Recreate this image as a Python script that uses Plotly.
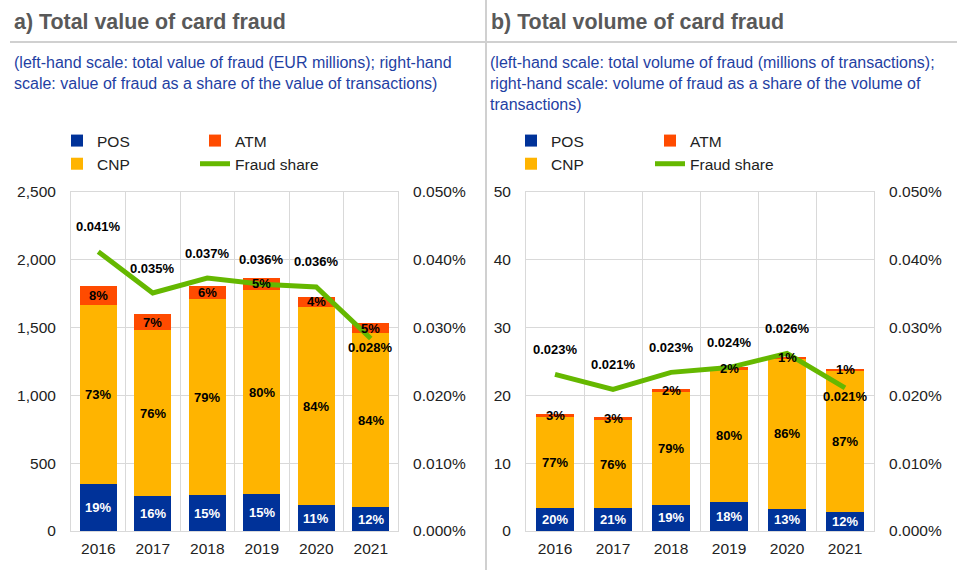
import plotly.graph_objects as go

years = ["2016", "2017", "2018", "2019", "2020", "2021"]

# Panel a: value of card fraud (EUR millions)
pos_a = [347, 258, 265, 273, 189, 177]
cnp_a = [1320, 1224, 1444, 1504, 1463, 1283]
atm_a = [140, 118, 98, 91, 74, 72]
share_a = [0.0412, 0.0351, 0.0373, 0.0364, 0.0360, 0.0284]
pos_a_lbl = ["19%", "16%", "15%", "15%", "11%", "12%"]
cnp_a_lbl = ["73%", "76%", "79%", "80%", "84%", "84%"]
atm_a_lbl = ["8%", "7%", "6%", "5%", "4%", "5%"]
share_a_lbl = ["0.041%", "0.035%", "0.037%", "0.036%", "0.036%", "0.028%"]

# Panel b: volume of card fraud (millions of transactions)
pos_b = [3.4, 3.45, 3.9, 4.3, 3.3, 2.8]
cnp_b = [13.35, 12.85, 16.6, 19.5, 22.1, 20.85]
atm_b = [0.5, 0.5, 0.4, 0.45, 0.3, 0.25]
share_b = [0.0231, 0.0209, 0.0234, 0.0241, 0.0262, 0.0211]
pos_b_lbl = ["20%", "21%", "19%", "18%", "13%", "12%"]
cnp_b_lbl = ["77%", "76%", "79%", "80%", "86%", "87%"]
atm_b_lbl = ["3%", "3%", "2%", "2%", "1%", "1%"]
share_b_lbl = ["0.023%", "0.021%", "0.023%", "0.024%", "0.026%", "0.021%"]

left_ticks_a = [0, 500, 1000, 1500, 2000, 2500]
left_ticks_b = [0, 10, 20, 30, 40, 50]
right_ticks = [0, 0.01, 0.02, 0.03, 0.04, 0.05]

C_POS = "#003299"
C_CNP = "#FFB400"
C_ATM = "#FF4B00"
C_LINE = "#65B800"
GRID = "#d9d9d9"
FONT = "Liberation Sans, Arial, sans-serif"
TXT = "#222222"

W, H = 957, 578


def px_x(p):
    return p / W


def px_y(p):
    return 1 - p / H


Y0, Y1 = px_y(531), px_y(192)

fig = go.Figure()

panels = [
    dict(x="x", y="y", y2="y2", pos=pos_a, cnp=cnp_a, atm=atm_a, share=share_a,
         lp="legend", lp2="legend2",
         pl=pos_a_lbl, cl=cnp_a_lbl, al=atm_a_lbl, sl=share_a_lbl),
    dict(x="x2", y="y3", y2="y4", pos=pos_b, cnp=cnp_b, atm=atm_b, share=share_b,
         lp="legend3", lp2="legend4",
         pl=pos_b_lbl, cl=cnp_b_lbl, al=atm_b_lbl, sl=share_b_lbl),
]

annotations = []
for i, p in enumerate(panels):
    fig.add_trace(go.Bar(x=years, y=p["pos"], name="POS", marker=dict(color=C_POS, line=dict(width=0)),
                         xaxis=p["x"], yaxis=p["y"], legend=p["lp"], legendrank=1, hoverinfo="skip"))
    fig.add_trace(go.Bar(x=years, y=p["cnp"], name="CNP", marker=dict(color=C_CNP, line=dict(width=0)),
                         xaxis=p["x"], yaxis=p["y"], legend=p["lp"], legendrank=2, hoverinfo="skip"))
    fig.add_trace(go.Bar(x=years, y=p["atm"], name="ATM", marker=dict(color=C_ATM, line=dict(width=0)),
                         xaxis=p["x"], yaxis=p["y"], legend=p["lp2"], legendrank=3, hoverinfo="skip"))
    fig.add_trace(go.Scatter(x=years, y=p["share"], name="Fraud share", mode="lines",
                             line=dict(color=C_LINE, width=5),
                             xaxis=p["x"], yaxis=p["y2"], legend=p["lp2"], legendrank=4, hoverinfo="skip"))
    xr = p["x"]
    yr = p["y"]
    y2r = p["y2"]
    for k in range(len(years)):
        b0 = p["pos"][k]
        b1 = b0 + p["cnp"][k]
        b2 = b1 + p["atm"][k]
        for val, lbl, col in ((b0 / 2, p["pl"][k], "white"),
                              ((b0 + b1) / 2, p["cl"][k], "black"),
                              ((b1 + b2) / 2, p["al"][k], "black")):
            annotations.append(dict(x=k, y=val, xref=xr, yref=yr, text=lbl, showarrow=False,
                                    font=dict(family=FONT, size=13, color=col, weight="bold"),
                                    xanchor="center", yanchor="middle"))
        shift = 25 if k < 5 else -9
        annotations.append(dict(x=k, y=p["share"][k], xref=xr, yref=y2r, text=p["sl"][k],
                                showarrow=False, yshift=shift,
                                font=dict(family=FONT, size=13, color="black", weight="bold"),
                                xanchor="center", yanchor="middle"))

# titles and subtitles
annotations += [
    dict(x=px_x(12), y=px_y(22), xref="paper", yref="paper", xanchor="left", yanchor="middle",
         text="a) Total value of card fraud", showarrow=False,
         font=dict(family=FONT, size=21.4, color="#595959", weight="bold")),
    dict(x=px_x(489), y=px_y(22), xref="paper", yref="paper", xanchor="left", yanchor="middle",
         text="b) Total volume of card fraud", showarrow=False,
         font=dict(family=FONT, size=21.4, color="#595959", weight="bold")),
    dict(x=px_x(12), y=px_y(52), xref="paper", yref="paper", xanchor="left", yanchor="top", align="left",
         text="(left-hand scale: total value of fraud (EUR millions); right-hand<br>"
              "scale: value of fraud as a share of the value of transactions)",
         showarrow=False, font=dict(family=FONT, size=16, color="#1f3fa3")),
    dict(x=px_x(488), y=px_y(52), xref="paper", yref="paper", xanchor="left", yanchor="top", align="left",
         text="(left-hand scale: total volume of fraud (millions of transactions);<br>"
              "right-hand scale: volume of fraud as a share of the volume of<br>transactions)",
         showarrow=False, font=dict(family=FONT, size=16, color="#1f3fa3")),
]

shapes = [
    dict(type="line", xref="paper", yref="paper", x0=px_x(10), x1=1, y0=px_y(42), y1=px_y(42),
         line=dict(color="#d0d0d0", width=2)),
    dict(type="line", xref="paper", yref="paper", x0=px_x(486), x1=px_x(486), y0=px_y(570), y1=1,
         line=dict(color="#d0d0d0", width=2)),
]

tickfont = dict(family=FONT, size=15.5, color=TXT)
legfont = dict(family=FONT, size=15.5, color=TXT)


def leg(xp, yp):
    return dict(x=px_x(xp), y=px_y(yp), xanchor="left", yanchor="top", orientation="v",
                bgcolor="rgba(0,0,0,0)", borderwidth=0, font=legfont, traceorder="normal")


xa = dict(type="category", tickson="boundaries", showgrid=True, gridcolor=GRID, gridwidth=1,
          showline=True, linecolor=GRID, mirror=True, ticks="outside", ticklen=14,
          tickcolor="rgba(0,0,0,0)", tickfont=tickfont, fixedrange=True, automargin=False,
          range=[-0.5, 5.5], tickangle=0, ticklabelstandoff=3)
ya = dict(showgrid=True, gridcolor=GRID, gridwidth=1, showline=True, linecolor=GRID, mirror=True,
          ticks="outside", ticklen=11, tickcolor="rgba(0,0,0,0)", tickfont=tickfont,
          zeroline=False, fixedrange=True, automargin=False)
yr = dict(showgrid=False, showline=False, zeroline=False, side="right", range=[0, 0.05],
          tickvals=right_ticks, ticktext=[f"{v:.3f}%" for v in right_ticks], automargin=False,
          ticks="outside", ticklen=11, tickcolor="rgba(0,0,0,0)", tickfont=tickfont, fixedrange=True)

fig.update_layout(
    template="none",
    width=W, height=H, margin=dict(l=0, r=0, t=0, b=0, pad=0, autoexpand=False),
    paper_bgcolor="white", plot_bgcolor="white",
    barmode="stack", bargap=0.33,
    font=dict(family=FONT, color=TXT),
    xaxis=dict(xa, domain=[px_x(71), px_x(398)], anchor="y"),
    yaxis=dict(ya, domain=[Y0, Y1], anchor="x", range=[0, 2500], tickvals=left_ticks_a,
               ticktext=[f"{v:,}" for v in left_ticks_a]),
    yaxis2=dict(yr, overlaying="y", anchor="x"),
    xaxis2=dict(xa, domain=[px_x(526), px_x(874)], anchor="y3"),
    yaxis3=dict(ya, domain=[Y0, Y1], anchor="x2", range=[0, 50], tickvals=left_ticks_b,
                ticktext=[str(v) for v in left_ticks_b]),
    yaxis4=dict(yr, overlaying="y3", anchor="x2"),
    legend=leg(57, 124),
    legend2=leg(195, 124),
    legend3=leg(511, 124),
    legend4=leg(650, 124),
    annotations=annotations,
    shapes=shapes,
    showlegend=True,
)

fig.write_html("out.html", config={"displayModeBar": False},
               post_script="document.body.style.margin='0px';document.body.style.overflow='hidden';")
